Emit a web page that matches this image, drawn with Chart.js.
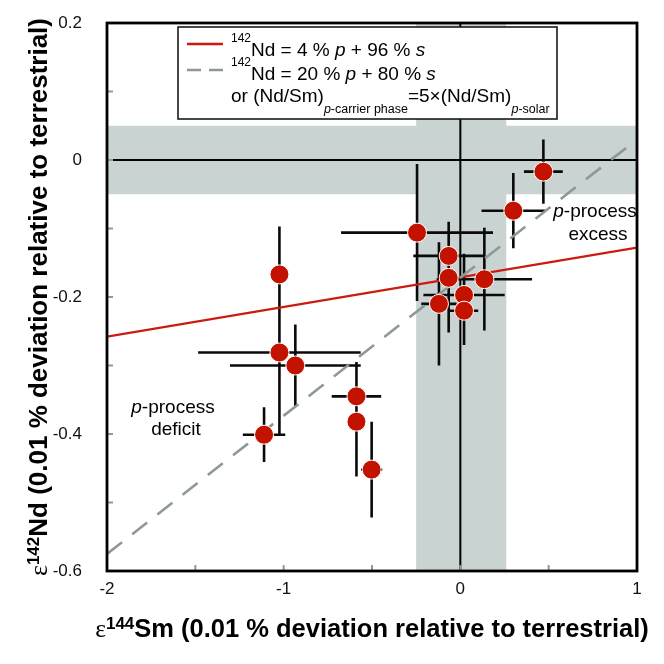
<!DOCTYPE html>
<html lang="en">
<head>
    <meta charset="UTF-8">
    <title>e142Nd vs e144Sm</title>
    <style>
        html, body { margin: 0; padding: 0; background: #fff; }
        canvas { display: block; }
    </style>
    <script src="https://cdn.jsdelivr.net/npm/chart.js"></script>
</head>
<body>
    <canvas id="grafico" width="664" height="664"></canvas>

    <script>
        // campioni: e144Sm, e142Nd e relativi errori
        const sm144    = [-0.245, -0.066, -0.066, 0.136, -0.121, 0.021, 0.021, 0.47, 0.30, -1.024, -1.024, -0.934, -1.111, -0.588, -0.588, -0.502];
        const nd142    = [-0.106, -0.140, -0.172, -0.174, -0.210, -0.197, -0.220, -0.017, -0.074, -0.167, -0.281, -0.300, -0.401, -0.345, -0.382, -0.452];
        const sm144Err = [0.43, 0.20, 0.05, 0.27, 0.10, 0.23, 0.08, 0.11, 0.18, 0.03, 0.46, 0.37, 0.12, 0.14, 0.03, 0.06];
        const nd142Err = [0.10, 0.05, 0.08, 0.075, 0.09, 0.06, 0.05, 0.047, 0.055, 0.07, 0.12, 0.06, 0.04, 0.05, 0.08, 0.07];

        // rette di mescolamento
        const mix4X  = [-2, 1];
        const mix4Y  = [-0.258, -0.128];
        const mix20X = [-2, 0.95];
        const mix20Y = [-0.575, 0.02];

        // fasce grigie (terrestre)
        const bandaSm = [-0.25, 0.26];
        const bandaNd = [-0.05, 0.05];

        const xTickVal = [-2, -1, 0, 1];
        const xTickLab = ["-2", "-1", "0", "1"];
        const yTickVal = [0.2, 0, -0.2, -0.4, -0.6];
        const yTickLab = ["0.2", "0", "-0.2", "-0.4", "-0.6"];

        const sans = '"Liberation Sans", Arial, Helvetica, sans-serif';
        const serif = '"Liberation Serif", "DejaVu Serif", serif';

        function etichetta(v, vals, labs) {
            const i = vals.findIndex(t => Math.abs(t - v) < 1e-6);
            return i < 0 ? "" : labs[i];
        }

        // testo con apici / pedici / corsivo
        function pezzi(ctx, parts, size, bold, draw, x, y) {
            let w = 0;
            parts.forEach(p => {
                const s = p.sup || p.sub ? (p.size || Math.round(size * 0.65)) : size;
                ctx.font = (p.it ? "italic " : "") + (bold && !p.thin ? "bold " : "") + s + "px " + (p.serif ? serif : sans);
                const dy = p.sup ? -(p.dy || size * 0.45) : p.sub ? (p.dy || size * 0.6) : 0;
                if (draw) ctx.fillText(p.t, x + w, y + dy);
                w += ctx.measureText(p.t).width;
            });
            return w;
        }
        function scrivi(ctx, parts, size, bold, x, y, align) {
            const w = pezzi(ctx, parts, size, bold, false);
            const x0 = align === "center" ? x - w / 2 : x;
            pezzi(ctx, parts, size, bold, true, x0, y);
        }

        const decorazioni = {
            id: "decorazioni",
            beforeDatasetsDraw(chart) {
                const { ctx, chartArea: a, scales: { x, y } } = chart;
                ctx.save();
                ctx.fillStyle = "#c9d3d1";
                const bx0 = x.getPixelForValue(bandaSm[0]), bx1 = x.getPixelForValue(bandaSm[1]);
                const by0 = y.getPixelForValue(bandaNd[1]), by1 = y.getPixelForValue(bandaNd[0]);
                ctx.fillRect(bx0, a.top, bx1 - bx0, a.bottom - a.top);
                ctx.fillRect(a.left, by0, a.right - a.left, by1 - by0);

                // assi dello zero
                ctx.strokeStyle = "#000";
                ctx.lineWidth = 2;
                ctx.beginPath();
                ctx.moveTo(a.left, y.getPixelForValue(0));
                ctx.lineTo(a.right, y.getPixelForValue(0));
                ctx.moveTo(x.getPixelForValue(0), a.top);
                ctx.lineTo(x.getPixelForValue(0), a.bottom);
                ctx.stroke();

                // barre di errore
                ctx.lineWidth = 2.6;
                ctx.strokeStyle = "#0a0a0a";
                ctx.beginPath();
                sm144.forEach((sx, i) => {
                    const sy = nd142[i];
                    ctx.moveTo(x.getPixelForValue(sx - sm144Err[i]), y.getPixelForValue(sy));
                    ctx.lineTo(x.getPixelForValue(sx + sm144Err[i]), y.getPixelForValue(sy));
                    ctx.moveTo(x.getPixelForValue(sx), y.getPixelForValue(sy - nd142Err[i]));
                    ctx.lineTo(x.getPixelForValue(sx), y.getPixelForValue(sy + nd142Err[i]));
                });
                ctx.stroke();
                ctx.restore();
            },
            afterDraw(chart) {
                const { ctx, chartArea: a, scales: { x, y } } = chart;
                ctx.save();

                // tacche interne
                ctx.strokeStyle = "#8e9b99";
                ctx.lineWidth = 2;
                ctx.beginPath();
                x.ticks.forEach(t => {
                    const px = x.getPixelForValue(t.value);
                    if (px <= a.left + 2 || px >= a.right - 2) return;
                    ctx.moveTo(px, a.bottom);
                    ctx.lineTo(px, a.bottom - 6);
                });
                y.ticks.forEach(t => {
                    const py = y.getPixelForValue(t.value);
                    if (py <= a.top + 2 || py >= a.bottom - 2) return;
                    ctx.moveTo(a.left, py);
                    ctx.lineTo(a.left + 6, py);
                });
                ctx.stroke();

                // cornice
                ctx.strokeStyle = "#000";
                ctx.lineWidth = 2.8;
                ctx.strokeRect(a.left, a.top, a.right - a.left, a.bottom - a.top);

                // legenda
                ctx.fillStyle = "#fff";
                ctx.fillRect(178, 27, 379, 92);
                ctx.strokeStyle = "#1a1a1a";
                ctx.lineWidth = 1.6;
                ctx.strokeRect(178, 27, 379, 92);

                ctx.lineWidth = 2.4;
                ctx.strokeStyle = "#cc1a0e";
                ctx.beginPath(); ctx.moveTo(187, 44); ctx.lineTo(223, 44); ctx.stroke();
                ctx.strokeStyle = "#8c9997";
                ctx.setLineDash([14, 8]);
                ctx.beginPath(); ctx.moveTo(187, 70); ctx.lineTo(223, 70); ctx.stroke();
                ctx.setLineDash([]);

                ctx.fillStyle = "#000";
                ctx.textBaseline = "alphabetic";
                ctx.textAlign = "left";
                scrivi(ctx, [{ t: "142", sup: true, size: 12, dy: 14 }, { t: "Nd = 4 % " }, { t: "p", it: true },
                    { t: " + 96 % " }, { t: "s", it: true }], 19, false, 231, 56);
                scrivi(ctx, [{ t: "142", sup: true, size: 12, dy: 14 }, { t: "Nd = 20 % " }, { t: "p", it: true },
                    { t: " + 80 % " }, { t: "s", it: true }], 19, false, 231, 80);
                scrivi(ctx, [{ t: "or (Nd/Sm)" }, { t: "p", sub: true, it: true, size: 12.5, dy: 11 },
                    { t: "-carrier phase", sub: true, size: 12.5, dy: 11 }, { t: "=5×(Nd/Sm)" },
                    { t: "p", sub: true, it: true, size: 12.5, dy: 11 }, { t: "-solar", sub: true, size: 12.5, dy: 11 }], 19, false, 231, 102);

                // annotazioni
                scrivi(ctx, [{ t: "p", it: true }, { t: "-process" }], 19, false, 595, 217, "center");
                scrivi(ctx, [{ t: "excess" }], 19, false, 598, 240, "center");
                scrivi(ctx, [{ t: "p", it: true }, { t: "-process" }], 19, false, 173, 413, "center");
                scrivi(ctx, [{ t: "deficit" }], 19, false, 176, 435, "center");

                // titoli degli assi
                scrivi(ctx, [{ t: "ε", serif: true, thin: true }, { t: "144", sup: true, size: 17, dy: 8 },
                    { t: "Sm (0.01 % deviation relative to terrestrial)" }], 25.5, true, 372, 637, "center");
                ctx.translate(47, 297);
                ctx.rotate(-Math.PI / 2);
                scrivi(ctx, [{ t: "ε", serif: true, thin: true }, { t: "142", sup: true, size: 17, dy: 8 },
                    { t: "Nd (0.01 % deviation relative to terrestrial)" }], 26, true, 0, 0, "center");
                ctx.restore();
            }
        };

        const punti = sm144.map((v, i) => ({ x: v, y: nd142[i] }));

        new Chart(document.getElementById("grafico").getContext("2d"), {
            type: "scatter",
            data: {
                datasets: [
                    {
                        type: "line",
                        data: mix4X.map((v, i) => ({ x: v, y: mix4Y[i] })),
                        borderColor: "#cc1a0e",
                        borderWidth: 2.2,
                        pointRadius: 0,
                        order: 2
                    },
                    {
                        type: "line",
                        data: mix20X.map((v, i) => ({ x: v, y: mix20Y[i] })),
                        borderColor: "#8c9997",
                        borderWidth: 2.6,
                        borderDash: [19, 13],
                        pointRadius: 0,
                        order: 1
                    },
                    {
                        data: punti,
                        pointRadius: 9.5,
                        pointBackgroundColor: "#c41200",
                        pointBorderColor: "#fff",
                        pointBorderWidth: 1,
                        order: 0
                    }
                ]
            },
            options: {
                responsive: false,
                animation: false,
                layout: { padding: { top: 23, right: 27, left: 0, bottom: 0 } },
                plugins: { legend: { display: false }, tooltip: { enabled: false } },
                scales: {
                    x: {
                        type: "linear",
                        min: -2, max: 1,
                        grid: { display: false, drawTicks: false },
                        border: { display: false },
                        ticks: {
                            stepSize: 0.5, autoSkip: false, maxRotation: 0, padding: 8,
                            color: "#111", font: { family: sans, size: 17 },
                            callback: v => etichetta(v, xTickVal, xTickLab)
                        },
                        afterFit: s => { s.height = 93; }
                    },
                    y: {
                        type: "linear",
                        min: -0.6, max: 0.2,
                        grid: { display: false, drawTicks: false },
                        border: { display: false },
                        ticks: {
                            stepSize: 0.1, autoSkip: false, padding: 25,
                            color: "#111", font: { family: sans, size: 17 },
                            callback: v => etichetta(v, yTickVal, yTickLab)
                        },
                        afterFit: s => { s.width = 107; s.paddingTop = 0; s.paddingBottom = 0; }
                    }
                }
            },
            plugins: [decorazioni]
        });
    </script>
</body>
</html>
